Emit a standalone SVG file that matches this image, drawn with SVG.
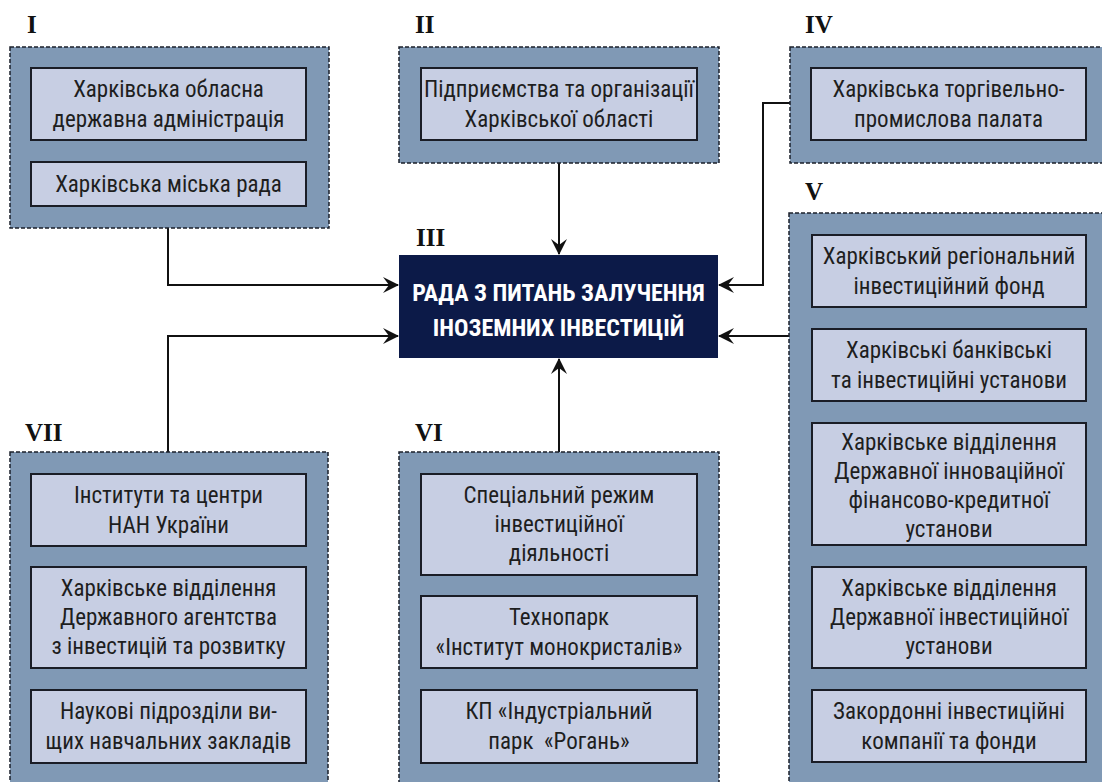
<svg xmlns="http://www.w3.org/2000/svg" width="1102" height="782" viewBox="0 0 1102 782">
<style>
.outer{fill:#8099b5;stroke:#1a1f2a;stroke-width:1.5;stroke-dasharray:4 2}
.inner{fill:#c7cee3;stroke:#1a1d26;stroke-width:2}
.t{font-family:"Liberation Sans Narrow","Roboto Condensed",Roboto,sans-serif;font-stretch:condensed;font-size:23px;fill:#1e1e1e;text-anchor:middle}
.num{font-family:"Liberation Serif","Times New Roman",serif;font-weight:bold;font-size:25px;fill:#111}
.ct{font-family:"Liberation Sans Narrow","Roboto Condensed",Roboto,sans-serif;font-stretch:condensed;font-weight:bold;font-size:24px;fill:#ffffff;text-anchor:middle}
.conn{fill:none;stroke:#111;stroke-width:2}
</style>
<defs>
<marker id="arr" viewBox="0 0 16 16" refX="15" refY="8" markerWidth="16" markerHeight="16" markerUnits="userSpaceOnUse" orient="auto">
<path d="M0,0 L16,8 L0,16 L6,8 Z" fill="#111"/>
</marker>
</defs>
<rect width="1102" height="782" fill="#ffffff"/>

<g id="connectors">
<path class="conn" d="M168,228 V285 H398" marker-end="url(#arr)"/>
<path class="conn" d="M559,163 V254" marker-end="url(#arr)"/>
<path class="conn" d="M790,103 H763 V285 H719" marker-end="url(#arr)"/>
<path class="conn" d="M789,336 H719" marker-end="url(#arr)"/>
<path class="conn" d="M168,452 V336 H398" marker-end="url(#arr)"/>
<path class="conn" d="M559,452 V359" marker-end="url(#arr)"/>
</g>

<g id="group-I">
<text class="num" x="27" y="33">I</text>
<rect class="outer" x="10" y="47" width="319" height="181"/>
<g id="node-I-1"><rect class="inner" x="31" y="68" width="275" height="72"/>
<text class="t" x="168.5" y="97">Харківська обласна</text>
<text class="t" x="168.5" y="127">державна адміністрація</text></g>
<g id="node-I-2"><rect class="inner" x="31" y="162" width="275" height="44"/>
<text class="t" x="168.5" y="192">Харківська міська рада</text></g>
</g>

<g id="group-II">
<text class="num" x="415" y="33">II</text>
<rect class="outer" x="399" y="47" width="320" height="116"/>
<g id="node-II-1"><rect class="inner" x="421" y="68" width="276" height="72"/>
<text class="t" x="559" y="97">Підприємства та організації</text>
<text class="t" x="559" y="127">Харківської області</text></g>
</g>

<g id="group-IV">
<text class="num" x="805" y="33">IV</text>
<rect class="outer" x="790" y="47" width="330" height="116"/>
<g id="node-IV-1"><rect class="inner" x="811" y="68" width="275" height="72"/>
<text class="t" x="948.5" y="97">Харківська торгівельно-</text>
<text class="t" x="948.5" y="127">промислова палата</text></g>
</g>

<g id="node-III">
<text class="num" x="416" y="246">III</text>
<rect x="399" y="255" width="319" height="103" fill="#0c1a48"/>
<text class="ct" x="558.5" y="301">РАДА З ПИТАНЬ ЗАЛУЧЕННЯ</text>
<text class="ct" x="558.5" y="336">ІНОЗЕМНИХ ІНВЕСТИЦІЙ</text>
</g>

<g id="group-V">
<text class="num" x="805" y="200">V</text>
<rect class="outer" x="789" y="213" width="330" height="590"/>
<g id="node-V-1"><rect class="inner" x="812" y="235" width="274" height="72"/>
<text class="t" x="949" y="264">Харківський регіональний</text>
<text class="t" x="949" y="294">інвестиційний фонд</text></g>
<g id="node-V-2"><rect class="inner" x="812" y="329" width="274" height="72"/>
<text class="t" x="949" y="358">Харківські банківські</text>
<text class="t" x="949" y="388">та інвестиційні установи</text></g>
<g id="node-V-3"><rect class="inner" x="812" y="423" width="274" height="122"/>
<text class="t" x="949" y="450">Харківське відділення</text>
<text class="t" x="949" y="479">Державної інноваційної</text>
<text class="t" x="949" y="508">фінансово-кредитної</text>
<text class="t" x="949" y="537">установи</text></g>
<g id="node-V-4"><rect class="inner" x="812" y="567" width="274" height="101"/>
<text class="t" x="949" y="596">Харківське відділення</text>
<text class="t" x="949" y="625">Державної інвестиційної</text>
<text class="t" x="949" y="654">установи</text></g>
<g id="node-V-5"><rect class="inner" x="812" y="690" width="274" height="72"/>
<text class="t" x="949" y="719">Закордонні інвестиційні</text>
<text class="t" x="949" y="749">компанії та фонди</text></g>
</g>

<g id="group-VII">
<text class="num" x="25" y="441">VII</text>
<rect class="outer" x="10" y="452" width="318" height="350"/>
<g id="node-VII-1"><rect class="inner" x="31" y="474" width="275" height="72"/>
<text class="t" x="168.5" y="503">Інститути та центри</text>
<text class="t" x="168.5" y="533">НАН України</text></g>
<g id="node-VII-2"><rect class="inner" x="31" y="567" width="275" height="101"/>
<text class="t" x="168.5" y="596">Харківське відділення</text>
<text class="t" x="168.5" y="625">Державного агентства</text>
<text class="t" x="168.5" y="654">з інвестицій та розвитку</text></g>
<g id="node-VII-3"><rect class="inner" x="31" y="690" width="275" height="73"/>
<text class="t" x="168.5" y="719">Наукові підрозділи ви-</text>
<text class="t" x="168.5" y="749">щих навчальних закладів</text></g>
</g>

<g id="group-VI">
<text class="num" x="415" y="441">VI</text>
<rect class="outer" x="399" y="452" width="320" height="350"/>
<g id="node-VI-1"><rect class="inner" x="421" y="474" width="276" height="101"/>
<text class="t" x="559" y="503">Спеціальний режим</text>
<text class="t" x="559" y="532">інвестиційної</text>
<text class="t" x="559" y="561">діяльності</text></g>
<g id="node-VI-2"><rect class="inner" x="421" y="596" width="276" height="72"/>
<text class="t" x="559" y="625">Технопарк</text>
<text class="t" x="559" y="655">«Інститут монокристалів»</text></g>
<g id="node-VI-3"><rect class="inner" x="421" y="690" width="276" height="73"/>
<text class="t" x="559" y="719">КП «Індустріальний</text>
<text class="t" x="559" y="749">парк&#160; «Рогань»</text></g>
</g>
</svg>
